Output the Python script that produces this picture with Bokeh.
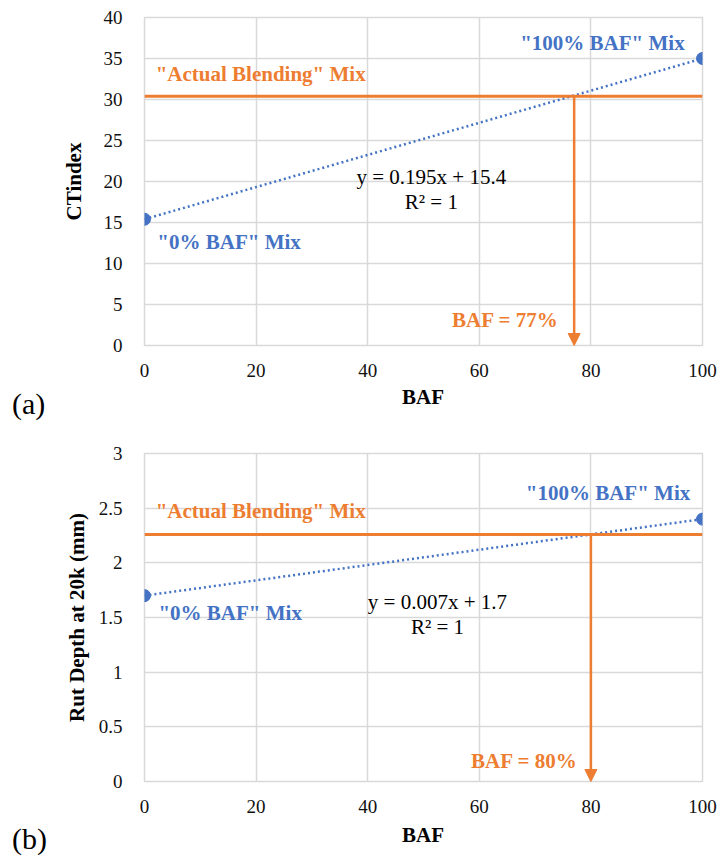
from bokeh.plotting import figure
from bokeh.layouts import column
from bokeh.models import Label, Arrow, NormalHead, FixedTicker, Range1d, Div
from bokeh.embed import file_html
from bokeh.resources import INLINE

# ---------------- data ----------------
baf_endpoints = [0, 100]
ctindex_values = [15.4, 35.0]
ctindex_actual = 30.4
ctindex_baf = 77
ctindex_eq = "y = 0.195x + 15.4"

rut_values = [1.7, 2.4]
rut_actual = 2.26
rut_baf = 80
rut_eq = "y = 0.007x + 1.7"

x_ticks = [0, 20, 40, 60, 80, 100]
ct_ticks = [0, 5, 10, 15, 20, 25, 30, 35, 40]
rut_ticks = [0, 0.5, 1, 1.5, 2, 2.5, 3]
rut_tick_labels = ["0", "0.5", "1", "1.5", "2", "2.5", "3"]
x_title = "BAF"

BLUE = "#4472C4"
ORANGE = "#ED7D31"
GRID = "#d9d9d9"
FONT = "'Liberation Serif', 'Times New Roman', serif"
W = 719


def make_panel(yvals, actual, baf, eq, yticks, ylabels, ymax, ylabel,
               height, top, label_pos, ylabel_standoff):
    p = figure(width=W, height=height, output_backend="svg", toolbar_location=None,
               x_range=Range1d(0, 100), y_range=Range1d(0, ymax),
               min_border_left=144, min_border_right=17,
               min_border_top=top, min_border_bottom=40)
    p.outline_line_color = GRID
    p.outline_line_width = 1.5
    p.background_fill_color = "white"
    p.border_fill_color = "white"
    for g in (p.xgrid[0], p.ygrid[0]):
        g.grid_line_color = GRID
        g.grid_line_width = 1.5
    p.xaxis.ticker = FixedTicker(ticks=x_ticks)
    p.yaxis.ticker = FixedTicker(ticks=yticks)
    p.yaxis.major_label_overrides = {t: l for t, l in zip(yticks, ylabels)}
    for ax in (p.xaxis[0], p.yaxis[0]):
        ax.axis_line_color = None
        ax.major_tick_line_color = None
        ax.minor_tick_line_color = None
        ax.major_label_text_font = FONT
        ax.major_label_text_font_size = "19px"
        ax.major_label_text_color = "#111111"
        ax.axis_label_text_font = FONT
        ax.axis_label_text_font_size = "21px"
        ax.axis_label_text_font_style = "bold"
        ax.axis_label_text_color = "#000000"
    p.xaxis.major_label_standoff = 12
    p.yaxis.major_label_standoff = 16
    p.yaxis.axis_label = ylabel
    p.yaxis.axis_label_standoff = ylabel_standoff

    # trendline
    p.line(baf_endpoints, yvals, line_color=BLUE, line_width=2.5, line_dash="2 3")
    # actual blending line
    p.line([0, 100], [actual, actual], line_color=ORANGE, line_width=3)
    # arrow down to BAF value
    p.add_layout(Arrow(end=NormalHead(size=12, fill_color=ORANGE, line_color=ORANGE),
                       x_start=baf, y_start=actual, x_end=baf, y_end=0,
                       line_color=ORANGE, line_width=2.5))
    # points
    p.scatter(baf_endpoints, yvals, size=12, fill_color=BLUE, line_color=BLUE)

    lp = label_pos
    def lab(x, y, t, color, bold=True, align="left"):
        p.add_layout(Label(x=x, y=y, text=t, text_color=color, text_font=FONT,
                           text_font_size="21px",
                           text_font_style="bold" if bold else "normal",
                           text_align=align, text_baseline="middle"))
    lab(*lp["actual"], '"Actual Blending" Mix', ORANGE)
    lab(*lp["full"], '"100% BAF" Mix', BLUE, align="right")
    lab(*lp["zero"], '"0% BAF" Mix', BLUE)
    lab(*lp["baf"], f"BAF = {baf}%", ORANGE, align="right")
    lab(*lp["eq"], eq, "#000000", bold=False, align="center")
    lab(*lp["r2"], "R\u00b2 = 1", "#000000", bold=False, align="center")
    return p


def make_strip(height, tag, tag_top, title_top):
    """Row under a panel holding the x-axis title and the panel tag."""
    html = (
        f'<div style="position:relative;width:{W}px;height:{height}px;'
        f"font-family:'Liberation Serif','Times New Roman',serif;color:#000;margin:0;padding:0;\">"
        f'<span style="position:absolute;left:12px;top:{tag_top}px;'
        f'font-size:30px;line-height:30px;white-space:nowrap;">{tag}</span>'
        f'<span style="position:absolute;left:373px;width:100px;text-align:center;'
        f'top:{title_top}px;font-size:21px;line-height:21px;font-weight:bold;">{x_title}</span>'
        f'</div>'
    )
    return Div(text=html, width=W, height=height, margin=(0, 0, 0, 0))


top_pos = {"actual": (2.0, 33.1), "full": (96.8, 36.9), "zero": (2.3, 12.6),
           "baf": (74.2, 3.05), "eq": (51.4, 20.6), "r2": (51.4, 17.5)}
bot_pos = {"actual": (2.0, 2.47), "full": (97.8, 2.635), "zero": (2.5, 1.537),
           "baf": (77.6, 0.192), "eq": (52.5, 1.638), "r2": (52.5, 1.409)}

p1 = make_panel(ctindex_values, ctindex_actual, ctindex_baf, ctindex_eq,
                ct_ticks, [str(t) for t in ct_ticks], 40, "CTindex",
                385, 17, top_pos, 15)
s1 = make_strip(35, "(a)", 4, 2)
p2 = make_panel(rut_values, rut_actual, rut_baf, rut_eq,
                rut_ticks, rut_tick_labels, 3, "Rut Depth at 20k (mm)",
                401, 33, bot_pos, 7)
s2 = make_strip(36, "(b)", 3, 4)

layout = column(p1, s1, p2, s2, spacing=0)
open("out.html", "w").write(file_html(layout, INLINE))
